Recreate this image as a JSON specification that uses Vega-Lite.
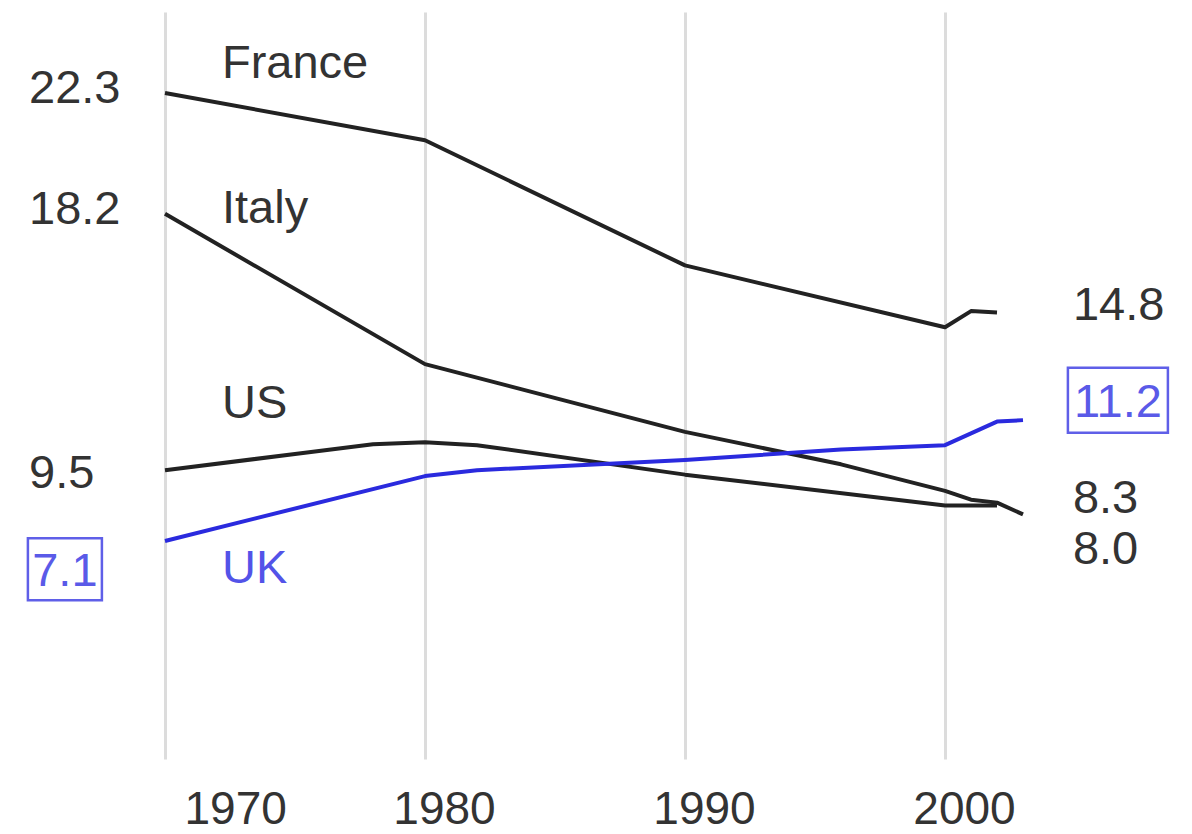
{
  "$schema": "https://vega.github.io/schema/vega-lite/v6.json",
  "width": 858,
  "height": 747,
  "autosize": {"type": "none"},
  "padding": {"left": 165, "top": 12, "right": 169, "bottom": 75},
  "background": "white",
  "config": {"view": {"stroke": null}, "font": "Liberation Sans"},
  "datasets": {
    "series": [
      {"country": "France", "year": 1970, "value": 22.3},
      {"country": "France", "year": 1980, "value": 20.7},
      {"country": "France", "year": 1990, "value": 16.45},
      {"country": "France", "year": 2000, "value": 14.35},
      {"country": "France", "year": 2001, "value": 14.9},
      {"country": "France", "year": 2002, "value": 14.85},
      {"country": "Italy", "year": 1970, "value": 18.2},
      {"country": "Italy", "year": 1980, "value": 13.1},
      {"country": "Italy", "year": 1990, "value": 10.8},
      {"country": "Italy", "year": 1996, "value": 9.7},
      {"country": "Italy", "year": 2000, "value": 8.8},
      {"country": "Italy", "year": 2001, "value": 8.5},
      {"country": "Italy", "year": 2002, "value": 8.4},
      {"country": "Italy", "year": 2003, "value": 8.0},
      {"country": "US", "year": 1970, "value": 9.5},
      {"country": "US", "year": 1975, "value": 10.05},
      {"country": "US", "year": 1978, "value": 10.38},
      {"country": "US", "year": 1980, "value": 10.45},
      {"country": "US", "year": 1982, "value": 10.35},
      {"country": "US", "year": 1990, "value": 9.35},
      {"country": "US", "year": 2000, "value": 8.3},
      {"country": "US", "year": 2001, "value": 8.3},
      {"country": "US", "year": 2002, "value": 8.3},
      {"country": "UK", "year": 1970, "value": 7.1},
      {"country": "UK", "year": 1980, "value": 9.3},
      {"country": "UK", "year": 1982, "value": 9.5},
      {"country": "UK", "year": 1990, "value": 9.85},
      {"country": "UK", "year": 1996, "value": 10.2},
      {"country": "UK", "year": 2000, "value": 10.35},
      {"country": "UK", "year": 2001, "value": 10.75},
      {"country": "UK", "year": 2002, "value": 11.15},
      {"country": "UK", "year": 2003, "value": 11.2}
    ],
    "labels": [
      {"label": "France", "country": "France", "kind": "name", "year": 1972.19, "value": 23.28},
      {"label": "Italy", "country": "Italy", "kind": "name", "year": 1972.19, "value": 18.36},
      {"label": "US", "country": "US", "kind": "name", "year": 1972.19, "value": 11.74},
      {"label": "UK", "country": "UK", "kind": "name", "year": 1972.19, "value": 6.14},
      {"label": "22.3", "country": "France", "kind": "value", "year": 1964.77, "value": 22.43},
      {"label": "18.2", "country": "Italy", "kind": "value", "year": 1964.77, "value": 18.32},
      {"label": "9.5", "country": "US", "kind": "value", "year": 1964.77, "value": 9.37},
      {"label": "7.1", "country": "UK", "kind": "value", "year": 1966.15, "value": 6.04},
      {"label": "14.8", "country": "France", "kind": "value", "year": 2004.92, "value": 15.07},
      {"label": "11.2", "country": "UK", "kind": "value", "year": 2006.65, "value": 11.77},
      {"label": "8.3", "country": "US", "kind": "value", "year": 2004.92, "value": 8.52},
      {"label": "8.0", "country": "Italy", "kind": "value", "year": 2004.92, "value": 6.79}
    ]
  },
  "layer": [
    {
      "data": {"name": "series"},
      "mark": {"type": "line", "strokeWidth": 4, "strokeJoin": "round"},
      "encoding": {
        "x": {
          "field": "year",
          "type": "quantitative",
          "scale": {"domain": [1970, 2003], "nice": false, "zero": false},
          "axis": {
            "title": null,
            "values": [1970, 1980, 1990, 2000],
            "format": "d",
            "grid": true,
            "gridColor": "#dcdcdc",
            "gridWidth": 3,
            "domain": false,
            "ticks": false,
            "labelFontSize": 46,
            "labelColor": "#333333",
            "labelOffset": 19,
            "labelPadding": 28,
            "labelFont": "Liberation Sans"
          }
        },
        "y": {
          "field": "value",
          "type": "quantitative",
          "scale": {"domain": [-0.3, 25.05], "nice": false, "zero": false},
          "axis": null
        },
        "color": {
          "field": "country",
          "type": "nominal",
          "scale": {"domain": ["France", "Italy", "US", "UK"], "range": ["#222222", "#222222", "#222222", "#2a2ade"]},
          "legend": null
        },
        "order": {"field": "year", "type": "quantitative"}
      }
    },
    {
      "data": {"name": "labels"},
      "transform": [{"filter": "!(datum.kind == 'value' && datum.country == 'UK')"}],
      "mark": {"type": "text", "align": "left", "baseline": "middle", "fontSize": 47, "font": "Liberation Sans"},
      "encoding": {
        "x": {"field": "year", "type": "quantitative"},
        "y": {"field": "value", "type": "quantitative"},
        "text": {"field": "label"},
        "color": {"condition": {"test": "datum.country == 'UK'", "value": "#5353e8"}, "value": "#333333"}
      }
    },
    {
      "data": {"name": "labels"},
      "transform": [{"filter": "datum.kind == 'value' && datum.country == 'UK'"}],
      "mark": {"type": "text", "align": "center", "baseline": "middle", "fontSize": 47, "font": "Liberation Sans", "color": "#5a5ae8"},
      "encoding": {
        "x": {"field": "year", "type": "quantitative"},
        "y": {"field": "value", "type": "quantitative"},
        "text": {"field": "label"}
      }
    },
    {
      "data": {"name": "labels"},
      "transform": [{"filter": "datum.label == '7.1' && datum.kind == 'value'"}],
      "mark": {"type": "point", "shape": "M-1,-0.838L1,-0.838L1,0.838L-1,0.838Z", "size": 5476, "filled": false, "stroke": "#5f5fe8", "strokeWidth": 2.5, "opacity": 1, "yOffset": -3},
      "encoding": {
        "x": {"field": "year", "type": "quantitative"},
        "y": {"field": "value", "type": "quantitative"}
      }
    },
    {
      "data": {"name": "labels"},
      "transform": [{"filter": "datum.label == '11.2' && datum.kind == 'value'"}],
      "mark": {"type": "point", "shape": "M-1,-0.65L1,-0.65L1,0.65L-1,0.65Z", "size": 10000, "filled": false, "stroke": "#5f5fe8", "strokeWidth": 2.5, "opacity": 1, "yOffset": -3},
      "encoding": {
        "x": {"field": "year", "type": "quantitative"},
        "y": {"field": "value", "type": "quantitative"}
      }
    }
  ]
}
